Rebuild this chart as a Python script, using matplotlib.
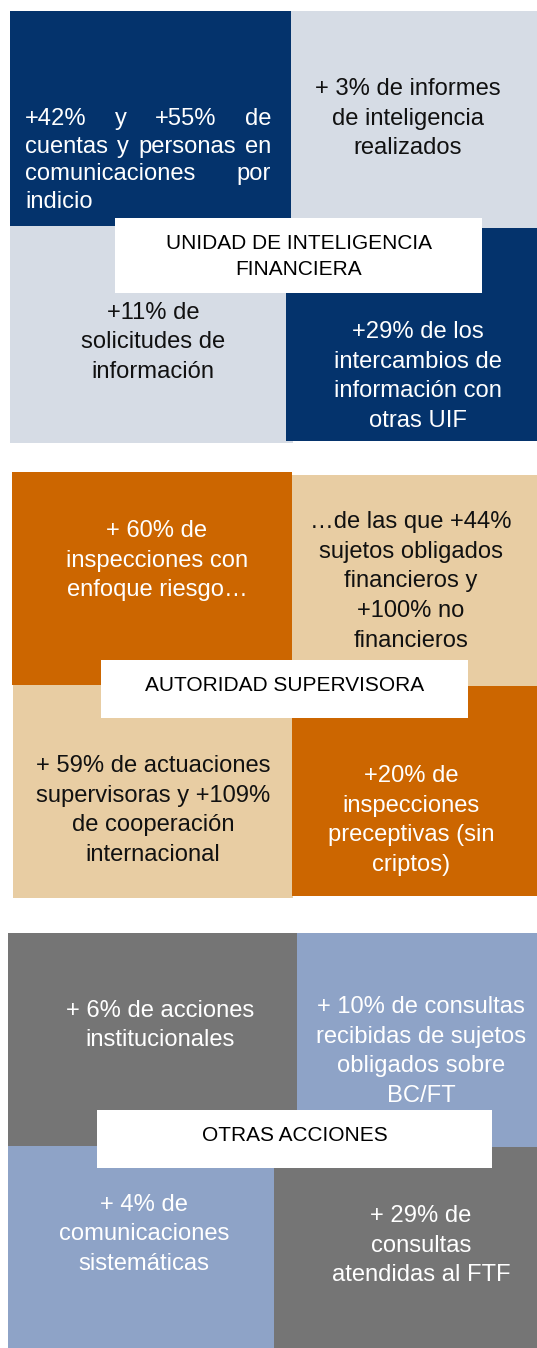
import matplotlib
matplotlib.use('Agg')
import matplotlib.pyplot as plt
from matplotlib.patches import Rectangle

plt.rcParams['font.family'] = ['Liberation Sans', 'DejaVu Sans']

W, H = 537, 1348

# ---- content -------------------------------------------------------------
TITLES = [
    "UNIDAD DE INTELIGENCIA\nFINANCIERA",
    "AUTORIDAD SUPERVISORA",
    "OTRAS ACCIONES",
]

UIF_CELLS = [
    ["+42% y +55% de", "cuentas y personas en", "comunicaciones por", "indicio"],
    ["+ 3% de informes", "de inteligencia", "realizados"],
    ["+11% de", "solicitudes de", "información"],
    ["+29% de los", "intercambios de", "información con", "otras UIF"],
]
SUP_CELLS = [
    ["+ 60% de", "inspecciones con", "enfoque riesgo…"],
    ["…de las que +44%", "sujetos obligados", "financieros y", "+100% no", "financieros"],
    ["+ 59% de actuaciones", "supervisoras y +109%", "de cooperación", "internacional"],
    ["+20% de", "inspecciones", "preceptivas (sin", "criptos)"],
]
OTRAS_CELLS = [
    ["+ 6% de acciones", "institucionales"],
    ["+ 10% de consultas", "recibidas de sujetos", "obligados sobre", "BC/FT"],
    ["+ 4% de", "comunicaciones", "sistemáticas"],
    ["+ 29% de", "consultas", "atendidas al FTF"],
]
CELLS = [UIF_CELLS, SUP_CELLS, OTRAS_CELLS]

# fill colours per section: (dark, light)
NAVY, LIGHT_GREY = "#04336C", "#D6DCE5"
ORANGE, BEIGE = "#CC6600", "#E8CDA3"
GREY, BLUE_GREY = "#757575", "#8EA3C7"
FILLS = [
    [NAVY, LIGHT_GREY, LIGHT_GREY, NAVY],
    [ORANGE, BEIGE, BEIGE, ORANGE],
    [GREY, BLUE_GREY, BLUE_GREY, GREY],
]
TEXT_COLORS = [
    ["white", "#111111", "#111111", "white"],
    ["white", "#111111", "#111111", "white"],
    ["white", "white", "white", "white"],
]

# ---- layout (pixels, y down) ---------------------------------------------
# cell rectangles: (x0, y0, x1, y1) for TL, TR, BL, BR
RECTS = [
    [(10, 11, 291, 226), (291, 11, 537, 228), (10, 226, 293, 443), (286, 228, 537, 441)],
    [(12, 472, 292, 685), (292, 475, 537, 686), (13, 685, 293, 898), (292, 686, 537, 896)],
    [(8, 933, 297, 1146), (297, 933, 537, 1147), (8, 1146, 274, 1348), (274, 1147, 537, 1348)],
]
# text centre (x, y) per cell
CENTERS = [
    [(148, 158), (408, 116), (153, 340), (418, 374)],
    [(157, 558), (411, 579), (153, 808), (411, 818)],
    [(160, 1023), (421, 1049), (144, 1232), (421, 1243)],
]
TITLE_BOX = [(115, 218, 482, 293), (101, 660, 468, 718), (97, 1110, 492, 1168)]
TITLE_Y = [255, 684, 1134]

BODY_SIZE = 17.1
PITCH = 29.8
TITLE_SIZE = 15.0
DY = 2.5  # va='center' sits a bit high compared with the original


def draw_lines(ax, lines, cx, cy, color, size=BODY_SIZE, pitch=PITCH, dy=DY):
    n = len(lines)
    for i, line in enumerate(lines):
        y = cy + (i - (n - 1) / 2) * pitch + dy
        ax.text(cx, y, line, ha='center', va='center', color=color, fontsize=size)


def draw_justified(ax, lines, x0, x1, cy, color, size, pitch):
    renderer = ax.figure.canvas.get_renderer()
    n = len(lines)
    for i, line in enumerate(lines):
        y = cy + (i - (n - 1) / 2) * pitch + DY
        words = line.split()
        if i == n - 1 or len(words) == 1:
            ax.text(x0, y, line, ha='left', va='center', color=color, fontsize=size)
            continue
        widths = []
        for w in words:
            t = ax.text(0, 0, w, fontsize=size)
            widths.append(t.get_window_extent(renderer).width)
            t.remove()
        gap = (x1 - x0 - sum(widths)) / (len(words) - 1)
        x = x0
        for w, wd in zip(words, widths):
            ax.text(x, y, w, ha='left', va='center', color=color, fontsize=size)
            x += wd + gap


fig = plt.figure(figsize=(W / 100, H / 100), dpi=100)
ax = fig.add_axes([0, 0, 1, 1])
ax.set_xlim(0, W)
ax.set_ylim(H, 0)
ax.axis('off')

for s in range(3):
    for k in range(4):
        x0, y0, x1, y1 = RECTS[s][k]
        ax.add_patch(Rectangle((x0, y0), x1 - x0, y1 - y0, facecolor=FILLS[s][k],
                               edgecolor='none', zorder=1))
    for k in range(4):
        cx, cy = CENTERS[s][k]
        if s == 0 and k == 0:
            # first block is justified in the original
            draw_justified(ax, CELLS[s][k], 25, 271, cy, TEXT_COLORS[s][k], BODY_SIZE, 27.5)
        else:
            draw_lines(ax, CELLS[s][k], cx, cy, TEXT_COLORS[s][k])
    bx0, by0, bx1, by1 = TITLE_BOX[s]
    ax.add_patch(Rectangle((bx0, by0), bx1 - bx0, by1 - by0, facecolor='white',
                           edgecolor='none', zorder=3))
    title_lines = TITLES[s].split("\n")
    draw_lines(ax, title_lines, (bx0 + bx1) / 2, TITLE_Y[s], 'black',
               size=TITLE_SIZE, pitch=26, dy=1.5)

for t in ax.texts:
    t.set_zorder(4)

fig.savefig("out.png", dpi=100, facecolor='white')
